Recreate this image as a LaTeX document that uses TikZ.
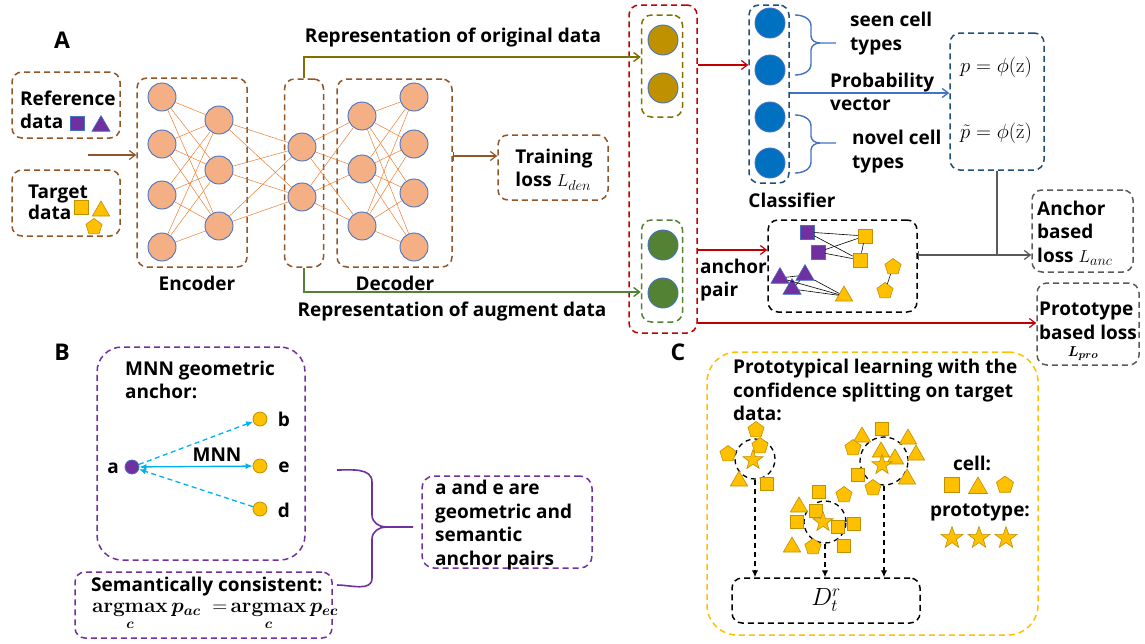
\documentclass[tikz,border=0pt]{standalone}
\usepackage{amsmath}
\usepackage[no-math]{fontspec}
\setmainfont{Open Sans}
\usetikzlibrary{shapes.geometric,arrows.meta,calc}

\definecolor{brn}{RGB}{145,85,40}
\definecolor{nodeor}{RGB}{244,176,132}
\definecolor{lineor}{RGB}{237,125,49}
\definecolor{nodeedge}{RGB}{68,114,196}
\definecolor{olivefill}{RGB}{191,144,0}
\definecolor{oliveline}{RGB}{128,112,0}
\definecolor{grn}{RGB}{84,130,53}
\definecolor{redc}{RGB}{192,0,0}
\definecolor{bluefill}{RGB}{0,112,192}
\definecolor{bluebox}{RGB}{31,78,121}
\definecolor{bracebl}{RGB}{68,114,196}
\definecolor{purp}{RGB}{112,48,160}
\definecolor{yel}{RGB}{255,192,0}
\definecolor{yeledge}{RGB}{191,144,0}
\definecolor{cyanc}{RGB}{0,176,240}
\definecolor{grayc}{RGB}{90,90,90}

\tikzset{
  lbl/.style={font=\fontsize{19}{23.5}\selectfont\bfseries, inner sep=0pt, align=left},
  panel/.style={font=\fontsize{23}{26}\selectfont\bfseries, inner sep=0pt},
  dbox/.style={rectangle, draw=#1, line width=1.5pt, dash pattern=on 6pt off 4pt,
    rounded corners=10pt, inner sep=0pt},
  neuron/.style={circle, draw=nodeedge, line width=0.9pt, fill=nodeor, minimum size=28pt, inner sep=0pt},
  unit/.style={circle, draw=nodeedge, line width=0.9pt, fill=#1, minimum size=30pt, inner sep=0pt},
  wire/.style={draw=lineor, line width=0.5pt},
  arr/.style={-{Straight Barb[length=6pt,width=9pt]}, line width=1.2pt},
  bararr/.style={{Bar[width=9pt]}-{Straight Barb[length=6pt,width=9pt]}, line width=1.2pt},
  ysq/.style={rectangle, fill=yel, draw=yeledge, line width=0.6pt, minimum size=13pt, inner sep=0pt},
  ytri/.style={regular polygon, regular polygon sides=3, fill=yel, draw=yeledge, line width=0.6pt, minimum size=20pt, inner sep=0pt},
  ypen/.style={regular polygon, regular polygon sides=5, fill=yel, draw=yeledge, line width=0.6pt, minimum size=17pt, inner sep=0pt},
  ystar/.style={star, star points=5, star point ratio=2.5, fill=yel, draw=yeledge, line width=0.6pt, minimum size=21pt, inner sep=0pt},
  psq/.style={rectangle, fill=purp, draw=nodeedge, line width=0.6pt, minimum size=14pt, inner sep=0pt},
  ptri/.style={regular polygon, regular polygon sides=3, fill=purp, draw=nodeedge, line width=0.6pt, minimum size=21pt, inner sep=0pt},
  dot/.style={circle, fill=#1, draw=yeledge, line width=0.8pt, minimum size=14pt, inner sep=0pt},
  link/.style={draw=black, line width=0.6pt},
  cdash/.style={draw=cyanc, line width=1.3pt, dash pattern=on 5pt off 3.5pt, -{Latex[length=7pt,width=6pt]}},
  ddash/.style={draw=black, line width=1.3pt, dash pattern=on 5pt off 4pt, -{Latex[length=7pt,width=6.5pt]}},
  ring/.style={circle, draw=black, line width=1.3pt, dash pattern=on 5pt off 4pt, inner sep=0pt},
}

\begin{document}
\begin{tikzpicture}[x=1pt,y=-1pt]
\useasboundingbox (0,0) rectangle (1145,643);

% ---------------- Panel A ----------------
\node[panel] (lA) at (62,40) {A};

% input boxes
\node[dbox=brn, minimum width=108pt, minimum height=66pt] (refbox) at (66,105) {};
\node[lbl, anchor=west] (reftxt) at (20,110) {Reference\\data};
\node[psq] (refsq) at (77,123) {};
\node[ptri] (reftri) at (101,126) {};

\node[dbox=brn, minimum width=108pt, minimum height=66pt] (tgtbox) at (66,203) {};
\node[lbl, anchor=west, font=\fontsize{19}{21}\selectfont\bfseries] (tgttxt) at (28,202) {Target\\data};
\node[ysq, minimum size=14pt] (tgtsq) at (81,207) {};
\node[ytri] (tgttri) at (101,211) {};
\node[ypen] (tgtpen) at (94,227) {};

% encoder / bottleneck / decoder frames
\node[dbox=brn, minimum width=110pt, minimum height=189pt] (encbox) at (192,172.5) {};
\node[dbox=brn, minimum width=39pt, minimum height=188pt] (midbox) at (304,173) {};
\node[dbox=brn, minimum width=115pt, minimum height=188pt] (decbox) at (394.5,173) {};

\coordinate (inpt) at (88,155);
\draw[arr, draw=brn] (inpt) -- (inpt -| encbox.west);

% neurons
\foreach \i/\y in {1/97,2/144,3/195,4/247} \node[neuron] (ea\i) at (162,\y) {};
\foreach \i/\y in {1/120,2/170,3/226} \node[neuron] (eb\i) at (219,\y) {};
\foreach \i/\y in {1/147,2/197} \node[neuron] (m\i) at (302,\y) {};
\foreach \i/\y in {1/116,2/169,3/226} \node[neuron] (da\i) at (362,\y) {};
\foreach \i/\y in {1/97,2/144,3/193,4/247} \node[neuron] (db\i) at (414,\y) {};

\foreach \i in {1,...,4} \foreach \j in {1,...,3} \draw[wire] (ea\i) -- (eb\j);
\foreach \i in {1,...,3} \foreach \j in {1,2} \draw[wire] (eb\i) -- (m\j);
\foreach \i in {1,2} \foreach \j in {1,...,3} \draw[wire] (m\i) -- (da\j);
\foreach \i in {1,...,3} \foreach \j in {1,...,4} \draw[wire] (da\i) -- (db\j);

\node[lbl] (enctxt) at (197,283) {Encoder};
\node[lbl] (dectxt) at (395,283) {Decoder};

% training loss
\node[dbox=brn, minimum width=110pt, minimum height=65pt] (lossbox) at (553,167.5) {};
\node[lbl] (losstxt) at (554,170) {Training\\loss $L_{den}$};
\coordinate (lossrow) at (0,156);
\draw[bararr, draw=brn] (decbox.east |- lossrow) -- (lossbox.west |- lossrow);

% representation blocks
\node[dbox=redc, minimum width=68pt, minimum height=328pt] (redbox) at (663,169) {};
\node[dbox=oliveline, minimum width=41pt, minimum height=102pt] (olbox) at (662,66) {};
\node[dbox=grn, minimum width=41pt, minimum height=102pt] (grbox) at (662,271) {};
\node[unit=olivefill] (o1) at (663,40) {};
\node[unit=olivefill] (o2) at (663,88) {};
\node[unit=grn] (g1) at (663,245) {};
\node[unit=grn] (g2) at (663,293) {};

\coordinate (origrow) at (0,57);
\coordinate (augrow) at (0,292);
\draw[arr, draw=oliveline, line width=1.4pt] (midbox.north) |- (olbox.west |- origrow);
\draw[arr, draw=grn, line width=1.4pt] (midbox.south) |- (grbox.west |- augrow);
\node[lbl] (origtxt) at (453,38) {Representation of original data};
\node[lbl] (augtxt) at (452,312) {Representation of augment data};

% classifier
\node[dbox=bluebox, minimum width=40pt, minimum height=178pt] (clsbox) at (769,94) {};
\foreach \i/\y in {1/23,2/70,3/117,4/163} \node[unit=bluefill] (k\i) at (770,\y) {};
\node[lbl] (clstxt) at (792,200) {Classifier};

\coordinate (clsrow) at (0,65);
\draw[arr, draw=redc] (redbox.east |- clsrow) -- (clsbox.west |- clsrow);

% braces
\draw[bracebl, line width=1.4pt] (795,15) to[out=0,in=90] (811,26) -- (811,36) to[out=-90,in=180] (820,43) -- (836,43);
\draw[bracebl, line width=1.4pt] (795,75) to[out=0,in=-90] (811,64) -- (811,50) to[out=90,in=180] (820,43);
\draw[bracebl, line width=1.4pt] (795,115) to[out=0,in=90] (811,126) -- (811,136) to[out=-90,in=180] (820,143) -- (836,143);
\draw[bracebl, line width=1.4pt] (795,173) to[out=0,in=-90] (811,162) -- (811,150) to[out=90,in=180] (820,143);
\node[lbl, anchor=west] (seentxt) at (850,33.5) {seen cell\\types};
\node[lbl, anchor=west] (noveltxt) at (852,151.5) {novel cell\\types};

% probability vector
\node[dbox=bluebox, minimum width=94pt, minimum height=137pt] (formbox) at (997,101.5) {};
\node[inner sep=0pt, font=\fontsize{21}{24}\selectfont] (f1) at (996,67) {$p=\phi(\mathrm{z})$};
\node[inner sep=0pt, font=\fontsize{21}{24}\selectfont] (f2) at (996,133) {$\tilde{p}=\phi(\tilde{\mathrm{z}})$};
\coordinate (probrow) at (0,93);
\draw[arr, draw=nodeedge, line width=1.4pt] (clsbox.east |- probrow) -- (formbox.west |- probrow);
\node[lbl, anchor=west] (probtxt) at (830,92) {Probability\\vector};

% anchor pairs
\node[dbox=black, minimum width=149pt, minimum height=92pt] (ancpbox) at (842.5,266) {};
\node[psq] (ps1) at (807,232) {};
\node[psq] (ps2) at (818,252) {};
\node[ysq, minimum size=14pt] (ys1) at (865,236) {};
\node[ysq, minimum size=14pt] (ys2) at (860,260) {};
\node[ptri] (pt1) at (780,278) {};
\node[ptri] (pt2) at (805,275) {};
\node[ptri] (pt3) at (792,289) {};
\node[ytri] (yt1) at (844,296) {};
\node[ypen] (pe1) at (893,267) {};
\node[ypen] (pe2) at (885,291) {};
\draw[link] (ps1) -- (ys1);
\draw[link] (ps1) -- (ys2);
\draw[link] (ps2) -- (ys1);
\draw[link] (ps2) -- (ys2);
\draw[link] (ys1) -- (ys2);
\draw[link] (pt1) -- (pt2);
\draw[link] (pt2) -- (pt3);
\draw[link] (pt1) -- (yt1);
\draw[link] (pt2) -- (yt1);
\draw[link] (pt3) -- (yt1);
\draw[link] (pe1) -- (pe2);
\coordinate (pairrow) at (0,250);
\draw[arr, draw=redc] (redbox.east |- pairrow) -- (ancpbox.west |- pairrow);
\node[lbl, anchor=west] (anctxt) at (700,280) {anchor\\pair};

% losses
\node[dbox=grayc, minimum width=101pt, minimum height=82pt] (anchbox) at (1082.5,231) {};
\node[lbl, anchor=west] (anchtxt) at (1037,233) {Anchor\\based\\loss $L_{anc}$};
\node[dbox=grayc, minimum width=102pt, minimum height=82pt] (protbox) at (1088,324) {};
\node[lbl, anchor=west] (prottxt) at (1039,321) {Prototype\\based loss};
\node[inner sep=0pt, font=\fontsize{15}{16}\selectfont] (prolab) at (1083,354) {$\boldsymbol{L_{pro}}$};

\coordinate (ancrow) at (0,255);
\coordinate (prorow) at (0,323);
\draw[grayc, line width=1.4pt] (formbox.south) -- (formbox.south |- ancrow);
\draw[bararr, draw=grayc] (ancpbox.east |- ancrow) -- (anchbox.west |- ancrow);
\draw[arr, draw=redc] (redbox.east |- prorow) -- (protbox.west |- prorow);

% ---------------- Panel B ----------------
\node[panel] (lB) at (62,352) {B};
\node[dbox=purp, minimum width=208pt, minimum height=213pt, rounded corners=25pt] (mnnbox) at (201,453.5) {};
\node[lbl, anchor=west] (mnntxt) at (125,380) {MNN geometric\\anchor:};
\node[circle, fill=purp, draw=nodeedge, line width=0.8pt, minimum size=14pt, inner sep=0pt] (na) at (132,467) {};
\node[dot=yel] (nb) at (260,419) {};
\node[dot=yel] (ne) at (260,466) {};
\node[dot=yel] (nd) at (260,509) {};
\node[lbl] (la) at (113,468) {a};
\node[lbl] (lb) at (284,419) {b};
\node[lbl] (le) at (284,467) {e};
\node[lbl] (ld) at (284,510) {d};
\draw[cdash] (na) -- (nb);
\draw[cdash] (nd) -- (na);
\draw[draw=cyanc, line width=1.3pt, {Latex[length=7pt,width=6pt]}-{Latex[length=7pt,width=6pt]}] (na) -- (ne);
\node[lbl] (mnnlab) at (217,455) {MNN};

\node[dbox=purp, minimum width=257pt, minimum height=66pt] (sembox) at (203.5,605) {};
\node[lbl, anchor=west] (semtxt) at (91,587) {Semantically consistent:};
\node[inner sep=0pt, anchor=north west, font=\fontsize{20}{22}\selectfont] (semform) at (92,603)
  {$\displaystyle\operatorname*{\mathbf{argmax}}_{\boldsymbol{c}}\boldsymbol{p_{ac}}\;\;\mathbf{=}\operatorname*{\mathbf{argmax}}_{\boldsymbol{c}}\boldsymbol{p_{ec}}$};

\draw[purp, line width=1.6pt] (337,470) to[out=0,in=90] (372,482) -- (372,515)
  to[out=-90,in=180] (386,527) -- (413,527);
\draw[purp, line width=1.6pt] (386,527) to[out=180,in=90] (372,539) -- (372,578)
  to[out=-90,in=0] (337,585);

\node[dbox=purp, minimum width=170pt, minimum height=92pt, rounded corners=12pt] (aebox) at (507,522) {};
\node[lbl, anchor=west] (aetxt) at (435,525) {a and e are\\geometric and\\semantic\\anchor pairs};

% ---------------- Panel C ----------------
\node[panel] (lC) at (678,352) {C};
\node[dbox=yel, minimum width=331pt, minimum height=283pt, rounded corners=30pt] (ybox) at (872.5,493.5) {};
\node[lbl, anchor=west] (ctxt) at (733,390) {Prototypical learning with the\\confidence splitting on target\\data:};

\node[ring, minimum size=40pt] (c1) at (755,459) {};
\node[ring, minimum size=42pt] (c2) at (825,522) {};
\node[ring, minimum size=48pt] (c3) at (884,461) {};

\foreach \n/\s/\x/\y in {
  q1a/ypen/756/430, q1b/ypen/728/454, q1c/ypen/760/446, q1d/ytri/739/481, q1e/ysq/767/484,
  q2a/ysq/819/492, q2b/ypen/844/495, q2c/ytri/799/507, q2d/ysq/816/511, q2e/ysq/797/522,
  q2f/ysq/838/527, q2g/ysq/854/524, q2h/ytri/792/547, q2i/ypen/813/547, q2j/ysq/844/546,
  q3a/ytri/862/437, q3b/ysq/882/429, q3c/ytri/908/439, q3d/ypen/853/448, q3e/ytri/881/452,
  q3f/ytri/916/455, q3g/ytri/895/459, q3h/ysq/858/475, q3i/ytri/907/479, q3j/ypen/873/488}
  \node[\s] (\n) at (\x,\y) {};
\node[ystar] (s1) at (753,460) {};
\node[ystar] (s2) at (823,522) {};
\node[ystar] (s3) at (882,465) {};

\node[lbl] (celltxt) at (972,463) {cell:};
\node[ysq, minimum size=15pt] (lq) at (952,485) {};
\node[ytri, minimum size=22pt] (lt) at (978,488) {};
\node[ypen, minimum size=18pt] (lp) at (1005,485) {};
\node[lbl] (prototxt) at (980,512) {prototype:};
\node[ystar, minimum size=23pt] (ls1) at (952,538) {};
\node[ystar, minimum size=23pt] (ls2) at (979,538) {};
\node[ystar, minimum size=23pt] (ls3) at (1006,538) {};

\node[dbox=black, minimum width=188pt, minimum height=45pt] (drbox) at (826,600.5) {};
\node[inner sep=0pt, font=\fontsize{24}{28}\selectfont] (drtxt) at (826,600) {$D_t^r$};
\draw[ddash] (c1.south) -- (c1.south |- drbox.north);
\draw[ddash] (c2.south) -- (c2.south |- drbox.north);
\draw[ddash] (c3.south) -- (c3.south |- drbox.north);

\end{tikzpicture}
\end{document}
